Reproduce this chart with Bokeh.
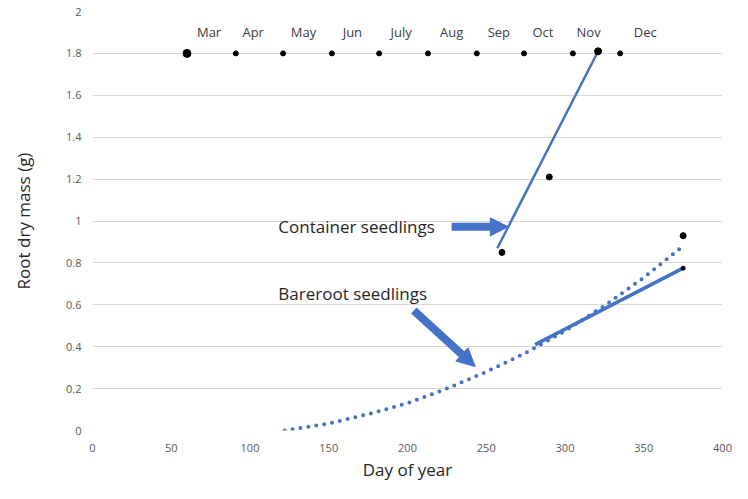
from bokeh.plotting import figure
from bokeh.models import (FixedTicker, CustomJSTickFormatter, Arrow, NormalHead,
                          ColumnDataSource, Range1d)
from bokeh.core.properties import value
from bokeh.embed import file_html
from bokeh.resources import INLINE

# ---- data ----
months = ["Mar", "Apr", "May", "Jun", "July", "Aug", "Sep", "Oct", "Nov", "Dec"]
month_start = [60, 91, 121, 152, 182, 213, 244, 274, 305, 335]
month_label_day = [74, 102, 134, 165, 196, 228, 258, 286, 315, 351]
month_mass = [1.8] * 10
month_label_mass = [1.9] * 10

container_day = [260, 290, 321]
container_mass = [0.85, 1.21, 1.81]
container_fit_day = [257, 321]
container_fit_mass = [0.87, 1.81]

bareroot_day = [375, 375]
bareroot_mass = [0.93, 0.775]
bareroot_fit_day = [281, 375]
bareroot_fit_mass = [0.41, 0.775]
bareroot_trend_day = [122, 150, 175, 200, 225, 250, 275, 300, 325, 350, 375]
bareroot_trend_mass = [0.0, 0.033, 0.078, 0.13, 0.2, 0.28, 0.37, 0.475, 0.595, 0.73, 0.88]

note_text = ["Container seedlings", "Bareroot seedlings"]
note_day = [118, 118]
note_mass = [0.972, 0.653]
arrow_start_day = [228, 204]
arrow_start_mass = [0.972, 0.573]
arrow_end_day = [264, 243]
arrow_end_mass = [0.972, 0.305]

y_ticks = [0, 0.2, 0.4, 0.6, 0.8, 1.0, 1.2, 1.4, 1.6, 1.8, 2.0]
x_ticks = [0, 50, 100, 150, 200, 250, 300, 350, 400]

BLUE = "#4472C4"
FONT = "Open Sans"

p = figure(width=732, height=483, x_range=Range1d(0, 400), y_range=Range1d(0, 2),
           output_backend="svg", toolbar_location=None,
           min_border_left=92, min_border_right=10, min_border_top=11, min_border_bottom=52)
p.outline_line_color = None
p.background_fill_color = "white"
p.border_fill_color = "white"

p.xgrid.visible = False
p.ygrid.grid_line_color = "#d9d9d9"
p.ygrid.grid_line_width = 1

p.yaxis.ticker = FixedTicker(ticks=y_ticks)
p.xaxis.ticker = FixedTicker(ticks=x_ticks)
p.yaxis.formatter = CustomJSTickFormatter(code="return String(Number(tick.toFixed(2)));")
for ax in (p.xaxis, p.yaxis):
    ax.axis_line_color = None
    ax.major_tick_line_color = None
    ax.minor_tick_line_color = None
    ax.major_label_text_font = FONT
    ax.major_label_text_font_size = "11px"
    ax.major_label_text_color = "#595959"
    ax.axis_label_text_font = FONT
    ax.axis_label_text_font_size = "17px"
    ax.axis_label_text_font_style = "normal"
    ax.axis_label_text_color = "#262626"
p.yaxis.axis_label = "Root dry mass (g)"
p.xaxis.axis_label = "Day of year"
p.yaxis.major_label_standoff = 5
p.yaxis.axis_label_standoff = 28
p.xaxis.major_label_standoff = 7
p.xaxis.axis_label_standoff = 3

# month markers
msrc = ColumnDataSource(dict(x=month_start, y=month_mass,
                             s=[8] + [5] * 9))
p.scatter("x", "y", size="s", source=msrc, marker="circle", color="black")
p.text(x=month_label_day, y=month_label_mass, text=months, text_align="center",
       text_baseline="middle", text_font=value(FONT), text_font_size="13px",
       text_color="#404040")

# bareroot trend (dotted) and fit (solid)
p.line(bareroot_trend_day, bareroot_trend_mass, line_color=BLUE, line_width=4,
       line_dash="0 8", line_cap="round")
p.line(bareroot_fit_day, bareroot_fit_mass, line_color=BLUE, line_width=3.5)

# container fit
p.line(container_fit_day, container_fit_mass, line_color=BLUE, line_width=2.5)

# data points
p.scatter(container_day, container_mass, size=[6, 6, 7], marker="circle", color="black")
p.scatter(bareroot_day, bareroot_mass, size=[6, 4], marker="circle", color="black")

# annotations
p.text(x=note_day, y=note_mass, text=note_text, text_align="left",
       text_baseline="middle", text_font=value(FONT), text_font_size="17px",
       text_color="#262626")
for i in range(len(note_text)):
    p.add_layout(Arrow(x_start=arrow_start_day[i], y_start=arrow_start_mass[i],
                       x_end=arrow_end_day[i], y_end=arrow_end_mass[i],
                       line_color=BLUE, line_width=8,
                       end=NormalHead(size=18, fill_color=BLUE, line_color=BLUE)))

open("out.html", "w").write(file_html(p, INLINE))
